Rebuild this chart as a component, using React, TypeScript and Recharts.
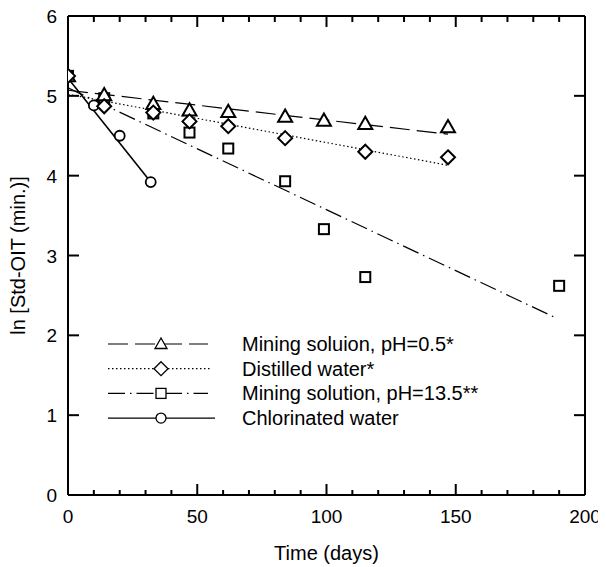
import React from 'react';
import { ComposedChart, Line, Scatter, XAxis, YAxis, Legend } from 'recharts';

const FONT = '"Liberation Sans", Arial, Helvetica, sans-serif';

const xTicks = [0, 10, 20, 30, 40, 50, 60, 70, 80, 90, 100, 110, 120, 130, 140, 150, 160, 170, 180, 190, 200];
const xLabelTicks = [0, 50, 100, 150, 200];
const yTicks = [0, 1, 2, 3, 4, 5, 6];

const seriesNames = [
  'Mining soluion, pH=0.5*',
  'Distilled water*',
  'Mining solution, pH=13.5**',
  'Chlorinated water',
];

// measured points
const acidPts = [
  { x: 0, y: 5.25 }, { x: 14, y: 5.01 }, { x: 33, y: 4.9 }, { x: 47, y: 4.82 }, { x: 62, y: 4.8 },
  { x: 84, y: 4.74 }, { x: 99, y: 4.69 }, { x: 115, y: 4.65 }, { x: 147, y: 4.61 },
];
const distilledPts = [
  { x: 0, y: 5.25 }, { x: 14, y: 4.87 }, { x: 33, y: 4.79 }, { x: 47, y: 4.68 }, { x: 62, y: 4.62 },
  { x: 84, y: 4.47 }, { x: 115, y: 4.3 }, { x: 147, y: 4.23 },
];
const alkaliPts = [
  { x: 0, y: 5.25 }, { x: 14, y: 4.97 }, { x: 33, y: 4.78 }, { x: 47, y: 4.54 }, { x: 62, y: 4.34 },
  { x: 84, y: 3.93 }, { x: 99, y: 3.33 }, { x: 115, y: 2.73 }, { x: 190, y: 2.62 },
];
const chlorPts = [
  { x: 0, y: 5.25 }, { x: 10, y: 4.88 }, { x: 20, y: 4.5 }, { x: 32, y: 3.92 },
];

// fitted lines (end points)
const acidFit = [{ x: 0, y: 5.07 }, { x: 147, y: 4.52 }];
const distilledFit = [{ x: 0, y: 5.02 }, { x: 147, y: 4.13 }];
const alkaliFit = [{ x: 0, y: 5.1 }, { x: 188, y: 2.23 }];
const chlorFit = [{ x: 0, y: 5.22 }, { x: 32, y: 3.92 }];

const DASH_ACID = '20 7';
const DASH_DIST = '1.5 2.5';
const DASH_ALK = '17 5 1.5 5';

const Tri = ({ cx, cy, s = 7, sw = 2 }: any) => (
  <polygon
    points={`${cx},${cy - s} ${cx + s},${cy + s * 0.75} ${cx - s},${cy + s * 0.75}`}
    fill="#fff" stroke="#000" strokeWidth={sw} strokeLinejoin="miter"
  />
);
const Dia = ({ cx, cy, s = 7, sw = 2 }: any) => (
  <polygon
    points={`${cx},${cy - s} ${cx + s},${cy} ${cx},${cy + s} ${cx - s},${cy}`}
    fill="#fff" stroke="#000" strokeWidth={sw}
  />
);
const Sq = ({ cx, cy, s = 5, sw = 2 }: any) => (
  <rect x={cx - s} y={cy - s} width={2 * s} height={2 * s} fill="#fff" stroke="#000" strokeWidth={sw} />
);
const Circ = ({ cx, cy, s = 5, sw = 1.8 }: any) => (
  <circle cx={cx} cy={cy} r={s} fill="#fff" stroke="#000" strokeWidth={sw} />
);

const BottomTick = (p: any) => {
  const v = p.payload.value;
  const major = xLabelTicks.includes(v);
  return (
    <g>
      <line x1={p.x} x2={p.x} y1={p.y} y2={p.y - (major ? 11 : 5)} stroke="#000" strokeWidth={2} />
      {major && (
        <text x={p.x} y={p.y + 28} textAnchor="middle" fontSize={19} fontFamily={FONT} fill="#000">
          {v}
        </text>
      )}
    </g>
  );
};
const TopTick = (p: any) => {
  const v = p.payload.value;
  const major = xLabelTicks.includes(v);
  return <line x1={p.x} x2={p.x} y1={p.y} y2={p.y + (major ? 11 : 6)} stroke="#000" strokeWidth={2} />;
};
const LeftTick = (p: any) => {
  const v = p.payload.value;
  return (
    <g>
      <line x1={p.x} x2={p.x + 11} y1={p.y} y2={p.y} stroke="#000" strokeWidth={2} />
      <text x={p.x - 11} y={p.y + 7} textAnchor="end" fontSize={19} fontFamily={FONT} fill="#000">
        {v}
      </text>
    </g>
  );
};
const RightTick = (p: any) => (
  <line x1={p.x} x2={p.x - 11} y1={p.y} y2={p.y} stroke="#000" strokeWidth={2} />
);

const YTitle = (props: any) => {
  const vb = props.viewBox || {};
  const x = 17;
  const y = vb.y + vb.height / 2;
  return (
    <text
      x={x} y={y} transform={`rotate(-90 ${x} ${y})`} textAnchor="middle"
      fontSize={20} fontFamily={FONT} fill="#000"
    >
      {'ln [Std-OIT (min.)]'}
    </text>
  );
};

const legendDefs = [
  { name: seriesNames[0], dash: DASH_ACID, M: Tri, s: 6, x2: 110 },
  { name: seriesNames[1], dash: DASH_DIST, M: Dia, s: 7, x2: 112 },
  { name: seriesNames[2], dash: DASH_ALK, M: Sq, s: 5, x2: 110 },
  { name: seriesNames[3], dash: undefined, M: Circ, s: 5, x2: 117 },
];

const LegendContent = () => (
  <svg width={400} height={110} style={{ display: 'block', overflow: 'visible' }}>
    {legendDefs.map((d, i) => {
      const y = 16 + i * 24.7;
      const M = d.M;
      return (
        <g key={i}>
          <line x1={10} x2={d.x2} y1={y} y2={y} stroke="#000" strokeWidth={1.2} strokeDasharray={d.dash} />
          <M cx={63} cy={y} s={d.s} sw={1.3} />
          <text x={144} y={y + 7} fontSize={20} fontFamily={FONT} fill="#000">
            {d.name}
          </text>
        </g>
      );
    })}
  </svg>
);

const Nothing = () => <g />;

export default function App() {
  return (
    <div style={{ width: 598, height: 559, fontFamily: FONT }}>
      <ComposedChart width={598} height={559} margin={{ top: 7, right: 20, bottom: 0, left: 0 }}>
        <XAxis
          xAxisId="b" type="number" dataKey="x" domain={[0, 200]} ticks={xTicks} interval={0}
          allowDataOverflow height={72} tickLine={false} tickSize={0} tickMargin={0}
          axisLine={{ stroke: '#000', strokeWidth: 2 }} tick={BottomTick}
          label={{ value: 'Time (days)', position: 'insideBottom', offset: 7, fontSize: 20, fill: '#000', fontFamily: FONT }}
        />
        <XAxis
          xAxisId="t" orientation="top" type="number" dataKey="x" domain={[0, 200]} ticks={xTicks} interval={0}
          allowDataOverflow height={1} tickLine={false} tickSize={0} tickMargin={0}
          axisLine={{ stroke: '#000', strokeWidth: 2 }} tick={TopTick}
        />
        <YAxis
          yAxisId="l" type="number" dataKey="y" domain={[0, 6]} ticks={yTicks} interval={0}
          allowDataOverflow width={60} tickLine={false} tickSize={0} tickMargin={0}
          axisLine={{ stroke: '#000', strokeWidth: 2 }} tick={LeftTick}
          label={<YTitle />}
        />
        <YAxis
          yAxisId="r" orientation="right" type="number" dataKey="y" domain={[0, 6]} ticks={yTicks} interval={0}
          allowDataOverflow width={1} tickLine={false} tickSize={0} tickMargin={0}
          axisLine={{ stroke: '#000', strokeWidth: 2 }} tick={RightTick}
        />
        <Legend
          layout="horizontal" align="center" verticalAlign="middle"
          content={<LegendContent />}
          wrapperStyle={{ left: 90, top: 320, width: 400, height: 110 }}
        />
        {/* invisible series that binds the frame axes (top / right) to the same scales */}
        <Scatter xAxisId="t" yAxisId="r" data={alkaliPts} dataKey="y" shape={Nothing} legendType="none"
          isAnimationActive={false} />
        <Line xAxisId="b" yAxisId="l" data={acidFit} dataKey="y" type="linear" stroke="#000" strokeWidth={1.2}
          strokeDasharray={DASH_ACID} dot={false} activeDot={false} isAnimationActive={false} name="acidFit" legendType="none" />
        <Line xAxisId="b" yAxisId="l" data={distilledFit} dataKey="y" type="linear" stroke="#000" strokeWidth={1.2}
          strokeDasharray={DASH_DIST} dot={false} activeDot={false} isAnimationActive={false} name="distFit" legendType="none" />
        <Line xAxisId="b" yAxisId="l" data={alkaliFit} dataKey="y" type="linear" stroke="#000" strokeWidth={1.2}
          strokeDasharray={DASH_ALK} dot={false} activeDot={false} isAnimationActive={false} name="alkFit" legendType="none" />
        <Line xAxisId="b" yAxisId="l" data={chlorFit} dataKey="y" type="linear" stroke="#000" strokeWidth={1.6}
          dot={false} activeDot={false} isAnimationActive={false} name="chlorFit" legendType="none" />
        <Scatter xAxisId="b" yAxisId="l" data={alkaliPts} dataKey="y" name={seriesNames[2]}
          shape={(p: any) => <Sq cx={p.cx} cy={p.cy} />} isAnimationActive={false} />
        <Scatter xAxisId="b" yAxisId="l" data={chlorPts} dataKey="y" name={seriesNames[3]}
          shape={(p: any) => <Circ cx={p.cx} cy={p.cy} />} isAnimationActive={false} />
        <Scatter xAxisId="b" yAxisId="l" data={acidPts} dataKey="y" name={seriesNames[0]}
          shape={(p: any) => <Tri cx={p.cx} cy={p.cy} />} isAnimationActive={false} />
        <Scatter xAxisId="b" yAxisId="l" data={distilledPts} dataKey="y" name={seriesNames[1]}
          shape={(p: any) => <Dia cx={p.cx} cy={p.cy} />} isAnimationActive={false} />
      </ComposedChart>
    </div>
  );
}
